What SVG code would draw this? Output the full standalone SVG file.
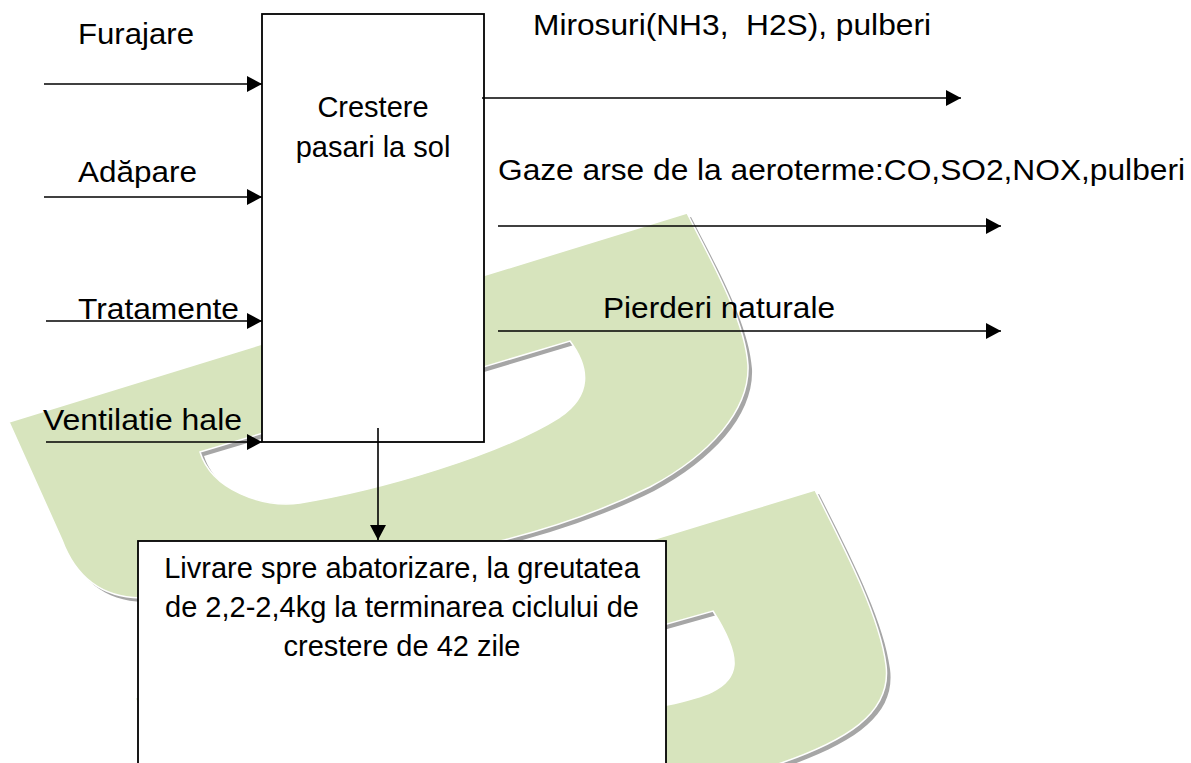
<svg xmlns="http://www.w3.org/2000/svg" width="1191" height="763" viewBox="0 0 1191 763">
<style>
.lbl{font-family:"Liberation Sans",Arial,sans-serif;font-size:30px;fill:#000}
.nt{font-family:"Liberation Sans",Arial,sans-serif;font-size:29px;fill:#000;text-anchor:middle}
.box{fill:#fff;stroke:#000;stroke-width:1.8}
.wm{fill:#d7e4bd;stroke:#fff;stroke-width:1.5;fill-rule:evenodd}
.sh{fill:#a6a6a6;fill-rule:evenodd}
.edge{stroke:#000;stroke-width:1.6;fill:none;marker-end:url(#ah)}
</style>
<defs>
<marker id="ah" markerUnits="userSpaceOnUse" markerWidth="16" markerHeight="16" refX="15" refY="8" orient="auto" viewBox="0 0 16 16"><path d="M0,0 L15,8 L0,16 Z" fill="#000"/></marker>
<path id="wmLower" d="M135,698 L815,490 C848,555 880,618 886,665 C892,712 850,742 760,770 L170,770 Z M450,685 L713,611 C725,630 735,650 734,665 C732,690 700,698 667,705 C600,715 500,730 450,735 Z"/>
<path id="wmUpper" d="M9,422 L687,213 C712,262 745,320 748,365 C750,410 710,455 650,487 C600,512 540,532 483,545 C380,570 220,598 140,598 C100,597 75,575 62,540 Z M200,452 L570,341 C590,368 592,395 560,417 C500,455 380,490 300,503 C262,508 212,490 200,452 Z"/>
</defs>
<rect x="0" y="0" width="1191" height="763" fill="#fff"/>
<g id="watermark">
<use href="#wmLower" class="sh" transform="translate(4,4)"/>
<use href="#wmLower" class="wm"/>
<use href="#wmUpper" class="sh" transform="translate(4,4)"/>
<use href="#wmUpper" class="wm"/>
</g>
<g id="node-crestere">
<rect class="box" x="262" y="14" width="222" height="428"/>
<text class="nt" x="373" y="117">Crestere</text>
<text class="nt" x="373" y="157">pasari la sol</text>
</g>
<g id="node-livrare">
<rect class="box" x="138" y="541" width="528" height="240"/>
<text class="nt" x="402" y="578">Livrare spre abatorizare, la greutatea</text>
<text class="nt" x="402" y="617">de 2,2-2,4kg la terminarea ciclului de</text>
<text class="nt" x="402" y="656">crestere de 42 zile</text>
</g>
<g id="label-furajare"><text class="lbl" x="78" y="44" textLength="116" lengthAdjust="spacingAndGlyphs">Furajare</text></g>
<g id="label-adapare"><text class="lbl" x="78" y="182" textLength="119" lengthAdjust="spacingAndGlyphs">Adăpare</text></g>
<g id="label-tratamente"><text class="lbl" x="78" y="319" textLength="161" lengthAdjust="spacingAndGlyphs">Tratamente</text></g>
<g id="label-ventilatie"><text class="lbl" x="43" y="430" textLength="199" lengthAdjust="spacingAndGlyphs">Ventilatie hale</text></g>
<g id="label-mirosuri"><text class="lbl" x="533" y="35" xml:space="preserve" textLength="398" lengthAdjust="spacingAndGlyphs">Mirosuri(NH3,  H2S), pulberi</text></g>
<g id="label-gaze"><text class="lbl" x="498" y="180" textLength="687" lengthAdjust="spacingAndGlyphs">Gaze arse de la aeroterme:CO,SO2,NOX,pulberi</text></g>
<g id="label-pierderi"><text class="lbl" x="603" y="318" textLength="232" lengthAdjust="spacingAndGlyphs">Pierderi naturale</text></g>
<g id="connectors">
<line class="edge" x1="44" y1="84" x2="262" y2="84"/>
<line class="edge" x1="44" y1="197" x2="262" y2="197"/>
<line class="edge" x1="46" y1="321" x2="262" y2="321"/>
<line class="edge" x1="46" y1="442" x2="262" y2="442"/>
<line class="edge" x1="482" y1="98" x2="961" y2="98"/>
<line class="edge" x1="498" y1="226" x2="1001" y2="226"/>
<line class="edge" x1="498" y1="331" x2="1001" y2="331"/>
<line class="edge" x1="378" y1="428" x2="378" y2="540"/>
</g>
</svg>
